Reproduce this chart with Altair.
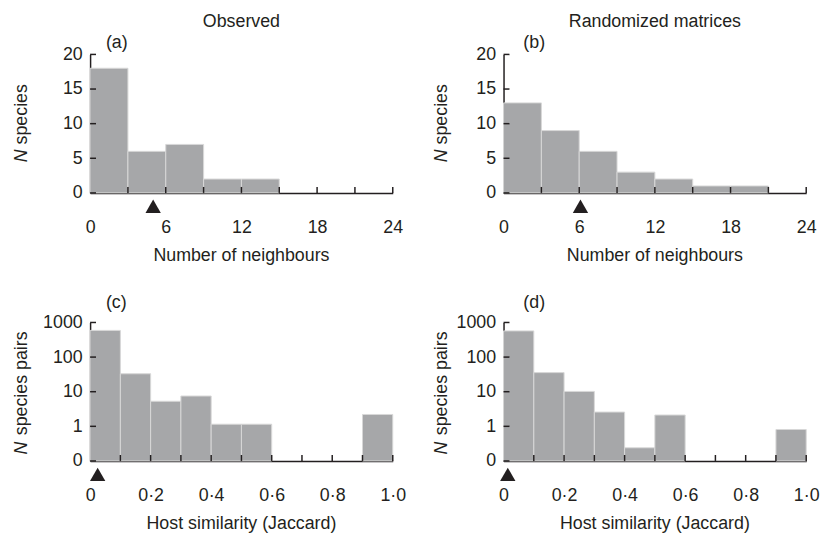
import altair as alt
import pandas as pd

W, H = 306, 140
FONT = "Liberation Sans"
INK = "#231f20"
BAR = "#a6a7a9"
EDGE = "#d8d8d8"
FS = 18

# ---- data ----
# (a) observed: number of neighbours, bins of width 3
nb_start_a = [0, 3, 6, 9, 12]
nb_count_a = [18, 6, 7, 2, 2]
# (b) randomized matrices
nb_start_b = [0, 3, 6, 9, 12, 15, 18]
nb_count_b = [13, 9, 6, 3, 2, 1, 1]
NB_W = 3
nb_mean_a = 5.0
nb_mean_b = 6.1
nb_xticks = [3, 6, 9, 12, 15, 18, 21, 24]
nb_xlabels = [0, 6, 12, 18, 24]
nb_yticks = [0, 5, 10, 15, 20]

# (c) observed host similarity (Jaccard), bins of width 0.1
js_start = [0.0, 0.1, 0.2, 0.3, 0.4, 0.5, 0.6, 0.7, 0.8, 0.9]
js_count_c = [590, 33, 5.3, 7.5, 1.15, 1.15, 0, 0, 0, 2.2]
# (d) randomized
js_count_d = [571, 35.6, 10.2, 2.58, 0.24, 2.12, 0, 0, 0, 0.81]
JS_W = 0.1
js_mean_c = 0.025
js_mean_d = 0.014
js_xticks = [0.1, 0.2, 0.3, 0.4, 0.5, 0.6, 0.7, 0.8, 0.9, 1.0]
js_xlabels = [0, 0.2, 0.4, 0.6, 0.8, 1.0]
js_yticks = [0.1, 1, 10, 100, 1000]


def txt(text, x, y, **kw):
    return alt.Chart(pd.DataFrame({"t": [text]})).mark_text(
        font=FONT, fontSize=FS, color=INK, **kw
    ).encode(text="t:N", x=alt.value(x), y=alt.value(y))


def panel(starts, counts, binw, mean, xdom, xticks, xlabels, log,
          letter, letter_x, letter_y, title, xtitle, yrest, ytx, n_y, rest_y):
    base = 0.1 if log else 0
    df = pd.DataFrame({"start": starts, "count": counts})
    df["end"] = df["start"] + binw
    df["base"] = base
    df = df[df["count"] > 0]

    xsc = alt.Scale(domain=xdom, nice=False, zero=False)
    if log:
        ysc = alt.Scale(type="log", domain=[0.1, 1000], nice=False)
        ylabel_expr = "datum.value < 0.5 ? '0' : format(datum.value, 'd')"
        yvals = js_yticks
        xlabel_expr = "datum.value == 0 ? '0' : replace(format(datum.value, '.1f'), '.', '\u00b7')"
    else:
        ysc = alt.Scale(domain=[0, 20], nice=False, zero=True)
        ylabel_expr = "format(datum.value, 'd')"
        yvals = nb_yticks
        xlabel_expr = "format(datum.value, 'd')"

    xaxis = alt.Axis(values=xlabels, labelExpr=xlabel_expr, ticks=False, tickSize=0,
                     domainColor=INK, domainWidth=1.5, grid=False, labelPadding=26,
                     title=None, labelFontSize=FS, labelFont=FONT, labelColor=INK,
                     labelFlush=False, labelOverlap=False)
    yaxis = alt.Axis(values=yvals, labelExpr=ylabel_expr, ticks=False, tickSize=0,
                     domainColor=INK, domainWidth=1.5, grid=False, labelPadding=8,
                     title=None, labelFontSize=FS, labelFont=FONT, labelColor=INK,
                     labelFlush=False, labelOverlap=False)

    bars = alt.Chart(df).mark_bar(fill=BAR, stroke=EDGE, strokeWidth=1).encode(
        x=alt.X("start:Q", scale=xsc, axis=xaxis),
        x2="end:Q",
        y=alt.Y("count:Q", scale=ysc, axis=yaxis),
        y2="base:Q",
    )
    xt = alt.Chart(pd.DataFrame({"v": xticks})).mark_rule(color=INK, strokeWidth=1.5).encode(
        x=alt.X("v:Q", scale=xsc, axis=xaxis),
        y=alt.value(H), y2=alt.value(H - 6),
    )
    yt = alt.Chart(pd.DataFrame({"v": yvals})).mark_rule(color=INK, strokeWidth=1.5).encode(
        y=alt.Y("v:Q", scale=ysc, axis=yaxis),
        x=alt.value(0), x2=alt.value(6),
    )
    tri = alt.Chart(pd.DataFrame({"m": [mean]})).mark_point(
        shape="triangle-up", filled=True, size=240, color=INK, opacity=1
    ).encode(x=alt.X("m:Q", scale=xsc, axis=xaxis), y=alt.value(H + 13.5))

    layers = [bars, xt, yt, tri,
              txt(letter, letter_x, letter_y, align="left", baseline="alphabetic"),
              txt(xtitle, W / 2, H + 69, align="center", baseline="alphabetic"),
              txt("N", ytx, n_y, angle=270, align="left", baseline="alphabetic",
                  fontStyle="italic"),
              txt(yrest, ytx, rest_y, angle=270, align="left", baseline="alphabetic")]
    if title:
        layers.append(txt(title, W / 2, -28, align="center", baseline="alphabetic"))
    return alt.layer(*layers).properties(width=W, height=H)


A = panel(nb_start_a, nb_count_a, NB_W, nb_mean_a, [0, 24], nb_xticks, nb_xlabels, False,
          "(a)", 16, -7, "Observed", "Number of neighbours", "species", -63.5, 109, 91)
B = panel(nb_start_b, nb_count_b, NB_W, nb_mean_b, [0, 24], nb_xticks, nb_xlabels, False,
          "(b)", 20, -7, "Randomized matrices", "Number of neighbours", "species", -57, 109, 91)
C = panel(js_start, js_count_c, JS_W, js_mean_c, [0, 1], js_xticks, js_xlabels, True,
          "(c)", 16, -14.5, None, "Host similarity (Jaccard)", "species pairs", -63.5, 133.5, 114)
D = panel(js_start, js_count_d, JS_W, js_mean_d, [0, 1], js_xticks, js_xlabels, True,
          "(d)", 20, -14.5, None, "Host similarity (Jaccard)", "species pairs", -57, 133.5, 114)

top = alt.hconcat(A, B, spacing=112, bounds="flush")
bottom = alt.hconcat(C, D, spacing=112, bounds="flush")
chart = alt.vconcat(top, bottom, spacing=271, bounds="flush").properties(
    padding={"left": 5, "top": 2, "right": 5, "bottom": 5}
).configure_view(stroke=None)

chart.save("out.html", embed_options={"renderer": "svg", "actions": False})
